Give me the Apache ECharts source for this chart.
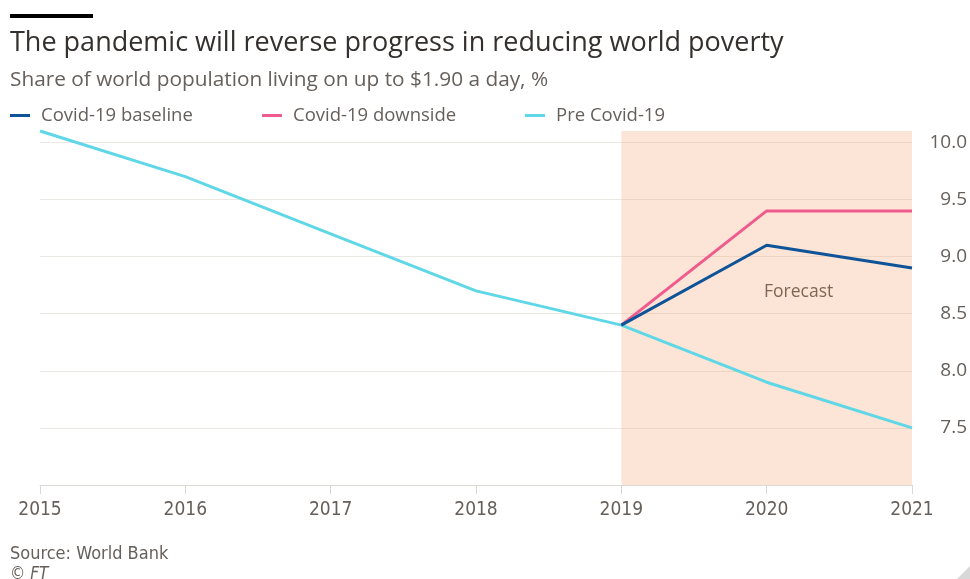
<!DOCTYPE html>
<html>
<head>
<meta charset="utf-8">
<script src="https://cdn.jsdelivr.net/npm/echarts@6/dist/echarts.min.js"></script>
<style>
html,body{margin:0;padding:0;background:#fff;}
#c{width:970px;height:579px;}
</style>
</head>
<body>
<div id="c"></div>
<script>
const years = ['2015','2016','2017','2018','2019','2020','2021'];
const preCovid = [10.1, 9.7, 9.2, 8.7, 8.4, 7.9, 7.5];
const baseline = [null, null, null, null, 8.4, 9.1, 8.9];
const downside = [null, null, null, null, 8.4, 9.4, 9.4];
const forecastRange = ['2019', '2021'];
const yTicks = [7.5, 8.0, 8.5, 9.0, 9.5, 10.0];

const FONT = '"Open Sans", "Noto Sans", sans-serif';
const NARROW = '"Liberation Sans Narrow", "DejaVu Sans Condensed", sans-serif';
const GREY = '#66605c';
const gridC = '#ebe7e3';

const chart = echarts.init(document.getElementById('c'), null, {renderer: 'canvas'});
chart.setOption({
  backgroundColor: '#fff',
  animation: false,
  grid: {left: 40, right: 55, top: 131, bottom: 94, containLabel: false},
  title: [
    {text: 'The pandemic will reverse progress in reducing world poverty', left: 10, top: 30, padding: 0,
     textStyle: {fontFamily: FONT, fontSize: 27, fontWeight: 'normal', color: '#33302e'}},
    {text: 'Share of world population living on up to $1.90 a day, %', left: 10, top: 70, padding: 0,
     textStyle: {fontFamily: FONT, fontSize: 20.8, fontWeight: 'normal', color: GREY}},
    {text: 'Source: World Bank', left: 10, top: 545, padding: 0,
     textStyle: {fontFamily: NARROW, fontSize: 18, fontWeight: 'normal', color: GREY}},
    {text: '© FT', left: 10, top: 566, padding: 0,
     textStyle: {fontFamily: NARROW, fontSize: 17, fontStyle: 'italic', fontWeight: 'normal', color: GREY}}
  ],
  legend: [
    {data: ['Covid-19 baseline'], left: 10, top: 106},
    {data: ['Covid-19 downside'], left: 262, top: 106},
    {data: ['Pre Covid-19'], left: 525, top: 106}
  ].map(l => Object.assign(l, {
    icon: 'rect', itemWidth: 20, itemHeight: 3, selectedMode: false, padding: 0,
    textStyle: {fontFamily: FONT, fontSize: 18.5, color: GREY, padding: [0, 0, 0, 6]}
  })),
  graphic: [
    {type: 'rect', shape: {x: 10, y: 14, width: 83, height: 4}, style: {fill: '#000'}},
    {type: 'text', left: 764, top: 283, style: {text: 'Forecast', font: '17.5px ' + FONT, fill: '#4d4845'}},
    {type: 'polygon', shape: {points: [[970, 566], [970, 579], [957, 579]]}, style: {fill: '#d8d8d8'}}
  ],
  xAxis: {
    type: 'category', data: years, boundaryGap: false,
    axisLine: {lineStyle: {color: '#dcd8d4', width: 1}},
    axisTick: {show: true, length: 9, lineStyle: {color: '#dcd8d4'}},
    axisLabel: {fontFamily: NARROW, fontSize: 19, color: GREY, margin: 16},
    splitLine: {show: false}
  },
  yAxis: {
    type: 'value', position: 'right', min: 7.0, max: 10.1, interval: 0.5,
    axisLine: {show: false}, axisTick: {show: false},
    axisLabel: {
      fontFamily: FONT, fontSize: 19, color: GREY, align: 'right', margin: 55,
      formatter: v => yTicks.some(t => Math.abs(t - v) < 1e-6) ? v.toFixed(1) : ''
    },
    splitLine: {lineStyle: {color: ['rgba(0,0,0,0)', gridC, gridC, gridC, gridC, gridC, gridC, 'rgba(0,0,0,0)'], width: 1}}
  },
  series: [
    {name: 'Covid-19 baseline', type: 'line', data: baseline, symbol: 'none', z: 4,
     lineStyle: {color: '#0f5499', width: 3}, itemStyle: {color: '#0f5499'}},
    {name: 'Covid-19 downside', type: 'line', data: downside, symbol: 'none', z: 3,
     lineStyle: {color: '#ef5b8c', width: 3}, itemStyle: {color: '#ef5b8c'}},
    {name: 'Pre Covid-19', type: 'line', data: preCovid, symbol: 'none', z: 2,
     lineStyle: {color: '#5fd7e6', width: 3}, itemStyle: {color: '#5fd7e6'},
     markArea: {silent: true, itemStyle: {color: 'rgba(245,170,120,0.3)'},
       data: [[{xAxis: forecastRange[0]}, {xAxis: forecastRange[1]}]]}}
  ]
});
</script>
</body>
</html>
